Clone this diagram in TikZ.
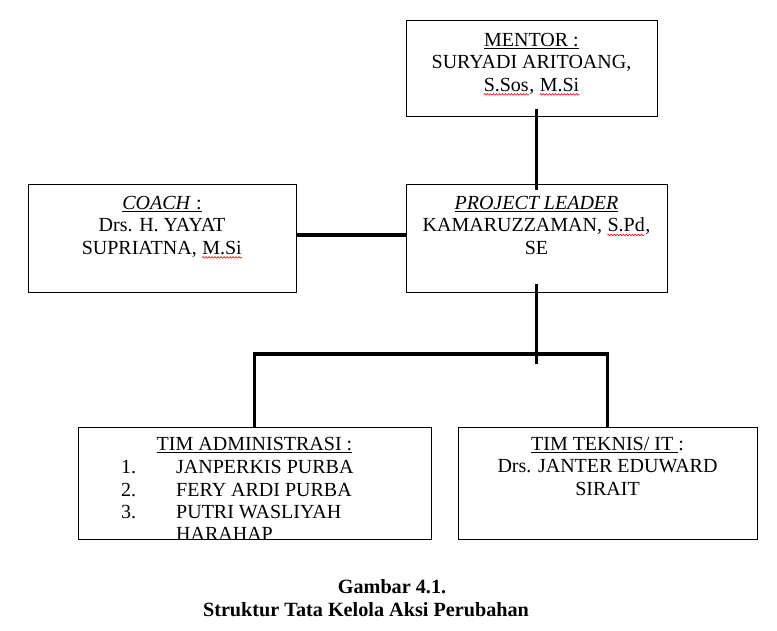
\documentclass[tikz,border=0pt]{standalone}
\usepackage{fontspec}
\setmainfont{Liberation Serif}
\usepackage{tikz}
\usetikzlibrary{decorations.pathmorphing}
\newcommand{\typo}[1]{\tikz[baseline=(w.base), x=1cm, y=1cm]{\node[inner sep=0pt] (w) {#1};
	\draw[red, line width=0.6pt, decorate, decoration={snake, amplitude=0.8pt, segment length=3pt}] ([yshift=-3pt]w.base west) -- ([yshift=-3pt]w.base east);}}

\begin{document}
\begin{tikzpicture}[x=1pt,y=-1pt,
	box/.style={draw, line width=1pt, inner sep=0pt},
	txt/.style={align=center, inner sep=0pt, anchor=north, font=\fontsize{20}{22.5}\selectfont},
	item/.style={inner sep=0pt, anchor=base west, font=\fontsize{20}{22.5}\selectfont},
	captiontxt/.style={inner sep=0pt, font=\fontsize{20.2}{22.5}\selectfont\bfseries},
	link/.style={line width=3.5pt}]
	\useasboundingbox (0,0) rectangle (777,630);
	\node[box, minimum width=251pt, minimum height=96pt] (mentor) at (531.5,68) {};
	\node[box, minimum width=268pt, minimum height=108pt] (coach) at (162,238) {};
	\node[box, minimum width=261pt, minimum height=108pt] (pl) at (536.5,238) {};
	\node[box, minimum width=353pt, minimum height=112pt] (admin) at (254.5,483) {};
	\node[box, minimum width=299pt, minimum height=112pt] (teknis) at (607.5,483) {};
	\node[txt] (mentortxt) at ([yshift=-13.5pt]mentor.north) {\underline{MENTOR :}\\SURYADI ARITOANG,\\\typo{S.Sos}, \typo{M.Si}};
	\node[txt] (coachtxt) at ([yshift=-12.5pt]coach.north) {\underline{\textit{COACH }:}\\Drs. H. YAYAT\\SUPRIATNA, \typo{M.Si}};
	\node[txt] (pltxt) at ([yshift=-12.5pt]pl.north) {\underline{\textit{PROJECT LEADER}}\\KAMARUZZAMAN, \typo{S.Pd},\\SE};
	\node[txt] (admintxt) at ([yshift=-10.5pt]admin.north) {\underline{TIM ADMINISTRASI :}};
	\node[item] (adminno1) at (121,473) {1.};
	\node[item] (adminno2) at (121,496) {2.};
	\node[item] (adminno3) at (121,518) {3.};
	\node[item] (adminname1) at (176,473) {JANPERKIS PURBA};
	\node[item] (adminname2) at (176,496) {FERY ARDI PURBA};
	\node[item] (adminname3) at (176,518) {PUTRI WASLIYAH};
	\node[item] (adminname3b) at (176,540) {HARAHAP};
	\node[txt] (teknistxt) at ([yshift=-10.5pt]teknis.north) {\underline{TIM TEKNIS/ IT }:\\Drs. JANTER EDUWARD\\SIRAIT};
	\coordinate (split) at (536.5,354);
	\draw[link] ([yshift=8pt]mentor.south -| pl.north) -- ([yshift=-6pt]pl.north);
	\draw[link] ([yshift=3pt]coach.east) -- ([yshift=3pt]coach.east -| pl.west);
	\draw[link] ([yshift=9pt]pl.south) -- ([yshift=-10pt]split);
	\draw[link] (admin.north) |- (split) -| (teknis.north);
	\node[captiontxt] (capnum) at (392,587) {Gambar 4.1.};
	\node[captiontxt] (captitle) at (366,610) {Struktur Tata Kelola Aksi Perubahan};
\end{tikzpicture}
\end{document}
